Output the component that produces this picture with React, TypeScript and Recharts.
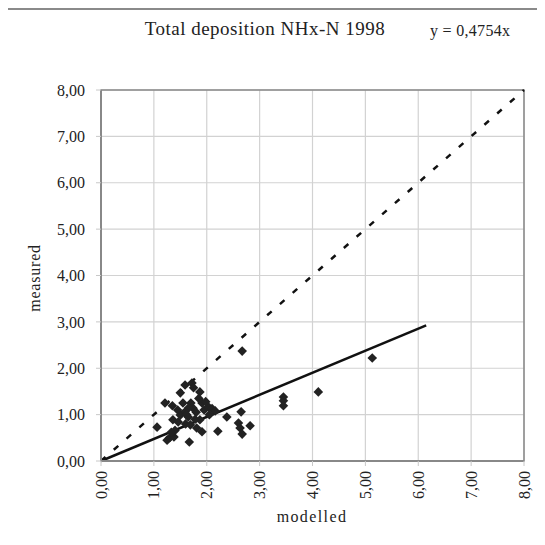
import { ScatterChart, Scatter, XAxis, YAxis, CartesianGrid, ReferenceLine, ReferenceArea } from "recharts";

const modelled = [
  1.06, 1.25, 1.3, 1.38, 1.4, 1.21, 1.35, 1.36, 1.46, 1.5, 1.5, 1.59, 1.59, 1.62, 1.65, 1.6, 1.67, 1.69,
  1.72, 1.75, 1.74, 1.7, 1.8, 1.81, 1.87, 1.87, 1.91, 1.91, 1.95, 2.03, 2.1, 2.16, 2.21, 2.38, 2.65,
  2.6, 2.63, 2.67, 2.82, 2.67, 3.45, 3.45, 3.45, 4.11, 5.13, 1.55, 1.66, 1.78, 1.45, 1.98, 1.33, 1.85, 2.05,
];
const measured = [
  0.73, 0.45, 0.5, 0.52, 0.66, 1.25, 1.19, 0.89, 0.84, 0.99, 1.47, 1.64, 1.06, 1.0, 0.95, 0.8, 0.41, 0.78,
  1.68, 1.58, 1.14, 1.25, 1.05, 0.71, 0.89, 1.49, 1.25, 0.63, 1.1, 1.17, 1.13, 1.08, 0.64, 0.95, 1.06,
  0.82, 0.71, 0.58, 0.76, 2.37, 1.38, 1.3, 1.19, 1.49, 2.22, 1.25, 1.15, 0.9, 1.1, 1.28, 0.62, 1.35, 1.0,
];
const ticks = [0, 1, 2, 3, 4, 5, 6, 7, 8];
const slope = 0.4754;
const fitEnd = 6.15;

const points = modelled.map((x, i) => ({ x, y: measured[i] }));
const fmt = (v: number) => v.toFixed(2).replace(".", ",");
const serif = "'Liberation Serif', 'DejaVu Serif', serif";

function Diamond(props: any) {
  const { cx, cy } = props;
  const h = 4.8;
  return <polygon points={`${cx},${cy - h} ${cx + h},${cy} ${cx},${cy + h} ${cx - h},${cy}`} fill="#222" />;
}

function XTick(props: any) {
  const { x, y, payload } = props;
  return (
    <text x={x} y={y} transform={`rotate(-90 ${x} ${y})`} textAnchor="end" dy="0.35em"
      fontFamily={serif} fontSize={16} fill="#222">
      {fmt(payload.value)}
    </text>
  );
}

export default function App() {
  return (
    <div style={{ position: "relative", width: 545, height: 545, marginLeft: -8, marginTop: -8, overflow: "hidden", background: "#fff" }}>
      <div style={{ position: "absolute", left: 0, width: 530, top: 18, textAlign: "center", fontFamily: serif, fontSize: 19, letterSpacing: 0.5, color: "#222" }}>
        Total deposition NHx-N 1998
      </div>
      <div style={{ position: "absolute", left: 430, top: 22, fontFamily: serif, fontSize: 16, letterSpacing: 0.3, color: "#222" }}>
        y = 0,4754x
      </div>
      <div style={{ position: "absolute", left: 35, top: 278, transform: "translate(-50%, -50%) rotate(-90deg)", fontFamily: serif, fontSize: 16, letterSpacing: 0.8, color: "#222", whiteSpace: "nowrap" }}>
        measured
      </div>
      <div style={{ position: "absolute", left: 312, top: 508, transform: "translateX(-50%)", fontFamily: serif, fontSize: 16, letterSpacing: 1.4, color: "#222", whiteSpace: "nowrap" }}>
        modelled
      </div>
      <ScatterChart width={545} height={545} margin={{ top: 90, right: 21, bottom: 0, left: 0 }}>
        <CartesianGrid stroke="#d2d2d2" strokeWidth={1.2} />
        <XAxis dataKey="x" type="number" domain={[0, 8]} ticks={ticks} height={84}
          tick={<XTick />} tickSize={5} tickMargin={5}
          tickLine={{ stroke: "#c8c8c8" }} axisLine={{ stroke: "#888", strokeWidth: 2 }} />
        <YAxis dataKey="y" type="number" domain={[0, 8]} ticks={ticks} width={101}
          tickFormatter={fmt} tickSize={5} tickMargin={11}
          tick={{ fontFamily: serif, fontSize: 16, fill: "#222" }}
          tickLine={{ stroke: "#c8c8c8" }} axisLine={{ stroke: "#888", strokeWidth: 2 }} />
        <ReferenceArea x1={0} x2={8} y1={0} y2={8} fill="none" stroke="#888" strokeWidth={1.5} fillOpacity={0} />
        <ReferenceLine segment={[{ x: 0, y: 0 }, { x: 8, y: 8 }]} stroke="#111" strokeWidth={2.5} strokeDasharray="6 11" />
        <Scatter data={points} shape={<Diamond />} isAnimationActive={false} />
        <ReferenceLine segment={[{ x: 0, y: 0 }, { x: fitEnd, y: slope * fitEnd }]} stroke="#111" strokeWidth={2.5} />
      </ScatterChart>
      <svg width={545} height={545} style={{ position: "absolute", left: 0, top: 0, zIndex: 5, pointerEvents: "none" }}>
        <path d="M7 545 V9 H545" fill="none" stroke="#8a8a8a" strokeWidth={2} />
      </svg>
    </div>
  );
}
